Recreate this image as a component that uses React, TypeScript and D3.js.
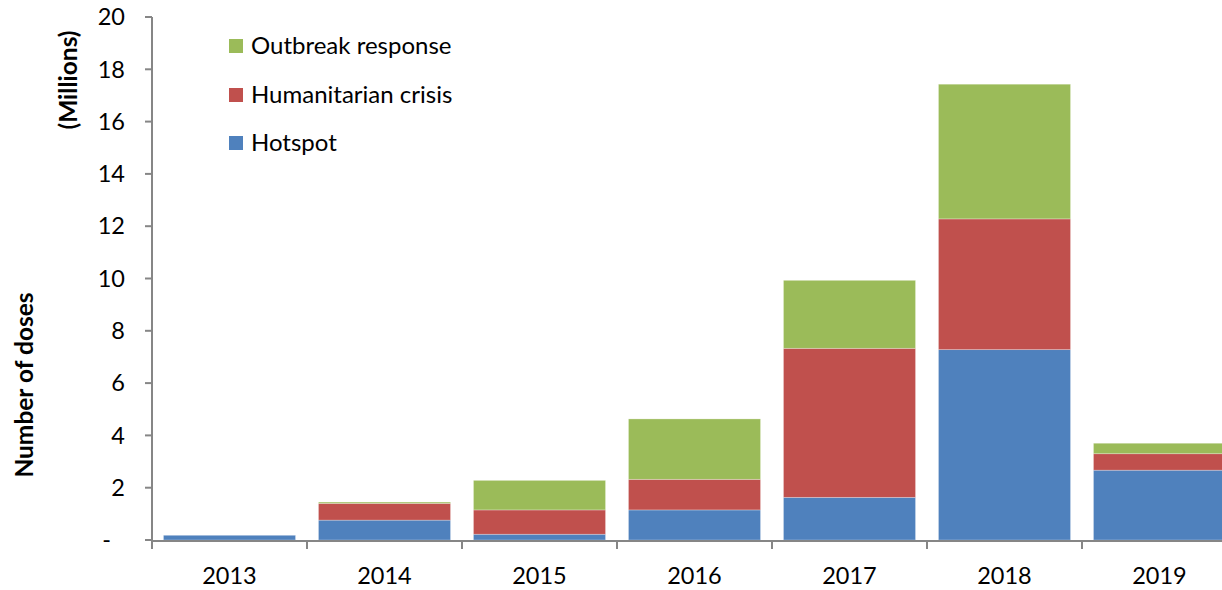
import React from "react";
import * as d3 from "d3";

const years = ["2013", "2014", "2015", "2016", "2017", "2018", "2019"];
const hotspot = [0.18, 0.76, 0.22, 1.15, 1.63, 7.28, 2.67];
const humanitarian = [0, 0.64, 0.93, 1.17, 5.7, 5.0, 0.63];
const outbreak = [0, 0.05, 1.13, 2.31, 2.6, 5.15, 0.4];
const yTicks = [0, 2, 4, 6, 8, 10, 12, 14, 16, 18, 20];
const seriesNames = ["Hotspot", "Humanitarian crisis", "Outbreak response"];
const seriesColors = ["#4F81BD", "#C0504D", "#9BBB59"];

const W = 1222;
const H = 590;
const FONT = "Lato, 'Open Sans', sans-serif";

export default function App() {
  const x = d3.scaleBand<string>().domain(years).range([152, 1237]).paddingInner(0.148).paddingOuter(0.074);
  const y = d3.scaleLinear().domain([0, 20]).range([540, 17]);
  const rows = years.map((yr, i) => ({ year: yr, Hotspot: hotspot[i], "Humanitarian crisis": humanitarian[i], "Outbreak response": outbreak[i] }));
  const stacked = d3.stack<any>().keys(seriesNames)(rows);
  const axisColor = "#868686";
  const legendOrder = [2, 1, 0];
  const legendY = [46, 95, 143];
  const step = x.step();
  const catEdges = years.map((_, i) => 152 + i * step).concat([152 + years.length * step]);

  return (
    <svg width={W} height={H} style={{ position: "absolute", left: 0, top: 0, background: "#fff" }} fontFamily={FONT}>
      <rect x={0} y={0} width={W} height={H} fill="#fff" />
      {stacked.map((layer, si) => (
        <g key={si} fill={seriesColors[si]}>
          {layer.map((d, i) => {
            const h = y(d[0]) - y(d[1]);
            if (h <= 0) return null;
            return (
              <rect key={i} x={x(years[i])} y={y(d[1])} width={x.bandwidth()} height={h} stroke="#ffffff" strokeOpacity={0.35} strokeWidth={0.8} />
            );
          })}
        </g>
      ))}
      {/* y axis */}
      <line x1={152} x2={152} y1={17} y2={541} stroke={axisColor} strokeWidth={2} />
      {yTicks.map((t) => (
        <g key={t}>
          <line x1={145} x2={152} y1={y(t)} y2={y(t)} stroke={axisColor} strokeWidth={2} />
          <text x={t === 0 ? 111 : 125} y={y(t)} dy="0.35em" textAnchor="end" fontSize={23.5} fill="#000">
            {t === 0 ? "-" : t}
          </text>
        </g>
      ))}
      {/* x axis */}
      <line x1={151} x2={1222} y1={541} y2={541} stroke={axisColor} strokeWidth={2} />
      {catEdges.map((e, i) => (
        <line key={i} x1={e} x2={e} y1={541} y2={549} stroke={axisColor} strokeWidth={2} />
      ))}
      {years.map((yr) => (
        <text key={yr} x={(x(yr) as number) + x.bandwidth() / 2} y={584} textAnchor="middle" fontSize={23.5} fill="#000">
          {yr}
        </text>
      ))}
      {/* axis titles */}
      <text transform="translate(33,385) rotate(-90)" textAnchor="middle" fontSize={24.5} fontWeight="bold" fill="#000">
        Number of doses
      </text>
      <text transform="translate(77,80) rotate(-90)" textAnchor="middle" fontSize={24.5} fontWeight="bold" fill="#000">
        (Millions)
      </text>
      {/* legend */}
      {legendOrder.map((si, k) => (
        <g key={si}>
          <rect x={229} y={legendY[k] - 7} width={14} height={14} fill={seriesColors[si]} />
          <text x={251} y={legendY[k]} dy="0.35em" fontSize={24} fill="#000">
            {seriesNames[si]}
          </text>
        </g>
      ))}
    </svg>
  );
}
